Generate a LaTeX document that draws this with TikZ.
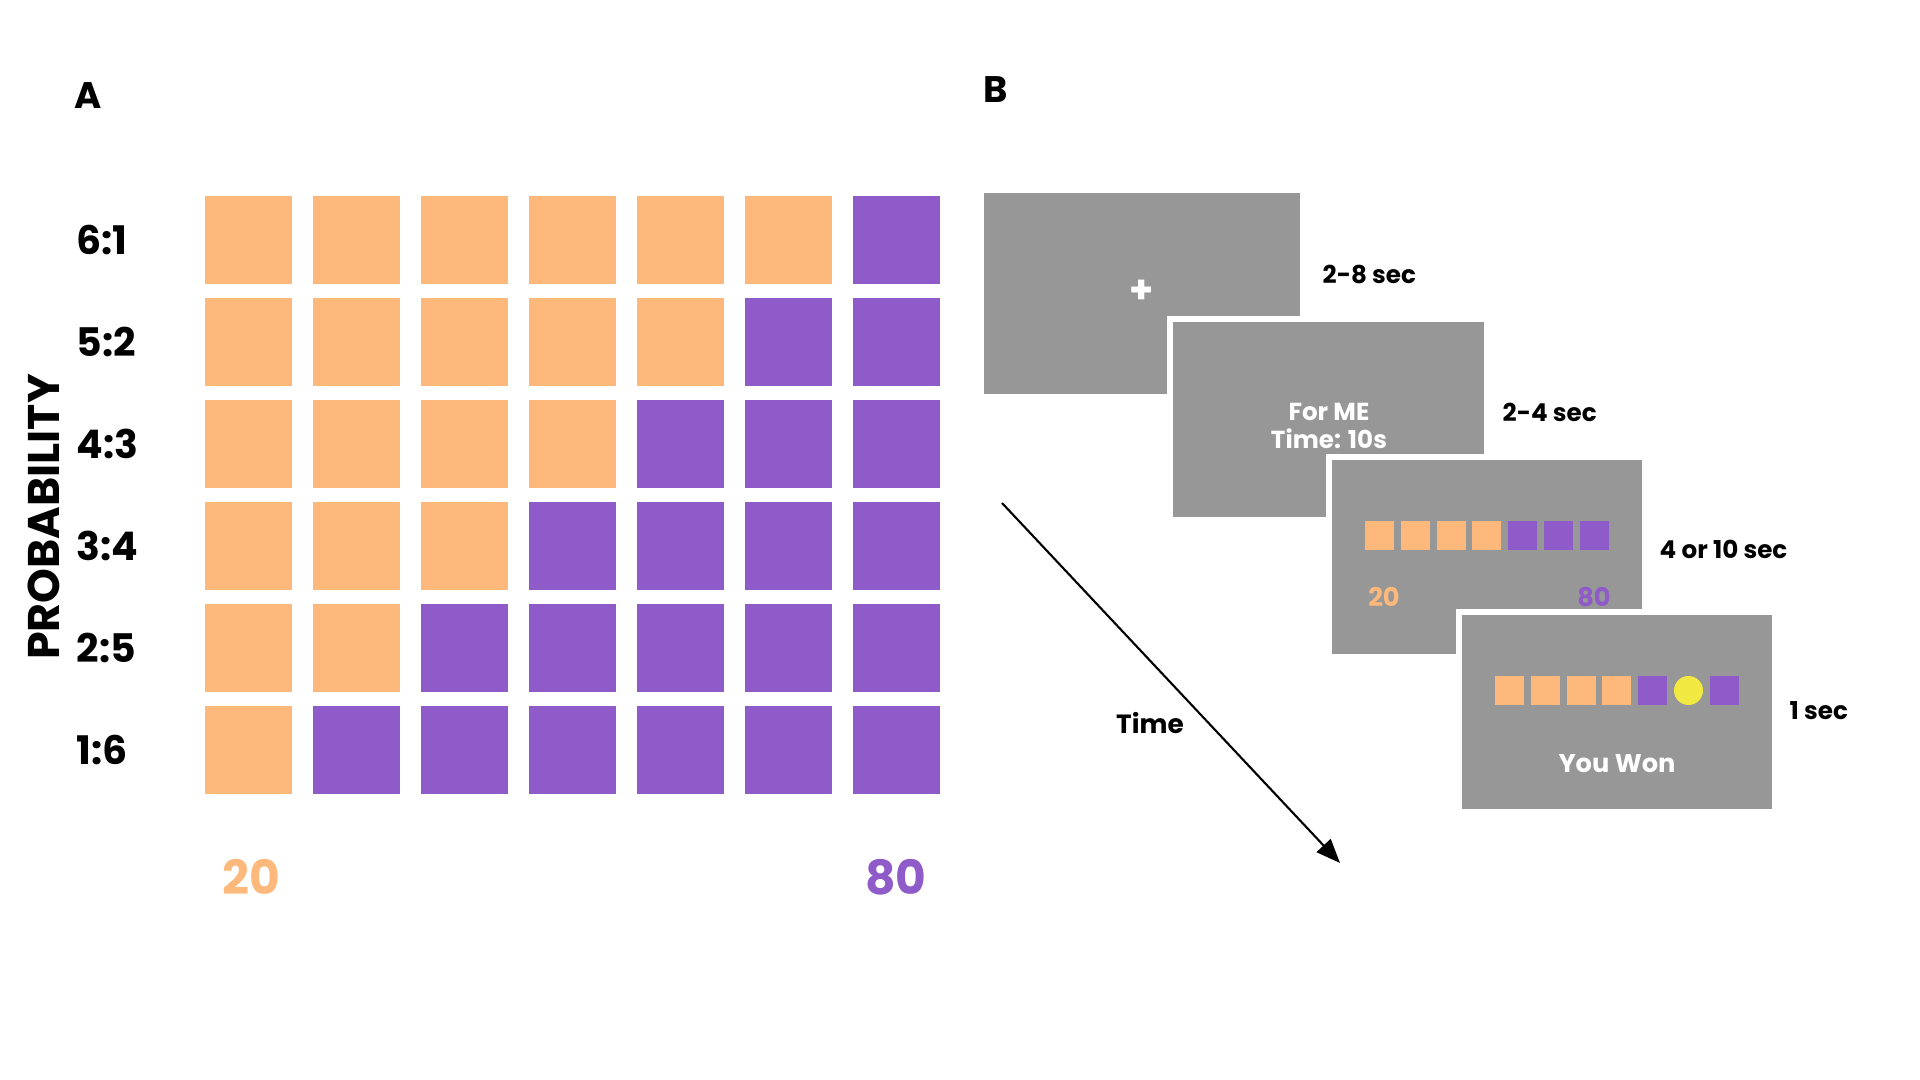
\documentclass[tikz,border=0pt]{standalone}
\usepackage{fontspec}
\setmainfont{Poppins}
\usetikzlibrary{arrows.meta}
\definecolor{orng}{RGB}{253,184,124}
\definecolor{purp}{RGB}{142,91,201}
\definecolor{scr}{RGB}{151,151,151}
\definecolor{yel}{RGB}{242,232,66}
\tikzset{
  sq/.style={rectangle, inner sep=0pt, outer sep=0pt, minimum width=0.87cm, minimum height=0.87cm},
  msq/.style={rectangle, inner sep=0pt, outer sep=0pt, minimum width=0.29cm, minimum height=0.29cm},
  rowlab/.style={anchor=west, inner sep=0pt, font=\fontsize{11.2pt}{13pt}\selectfont\bfseries},
  panel/.style={font=\fontsize{10.5pt}{12pt}\selectfont\bfseries, inner sep=0pt},
  dur/.style={anchor=west, inner sep=0pt, font=\fontsize{7pt}{8pt}\selectfont\bfseries},
  screen/.style={rectangle, fill=scr, draw=white, line width=0.06cm, inner sep=0pt, outer sep=0pt},
  wtext/.style={text=white, inner sep=0pt, font=\fontsize{7pt}{8pt}\selectfont\bfseries, align=center},
  big/.style={inner sep=0pt, font=\fontsize{13.4pt}{15pt}\selectfont\bfseries},
  small/.style={inner sep=0pt, font=\fontsize{7.3pt}{8pt}\selectfont\bfseries}
}
\begin{document}
\begin{tikzpicture}[x=0.01cm, y=-0.01cm]
\useasboundingbox[fill=white] (0,0) rectangle (1920,1080);
% Panel A
\node[panel] (labA) at (88,96) {A};
\foreach \j/\lab in {0/6:1,1/5:2,2/4:3,3/3:4,4/2:5,5/1:6}{
  \node[rowlab] (r\j) at (76,{240+102*\j}) {\lab};
  \foreach \i in {0,...,6}{
    \pgfmathtruncatemacro{\isor}{\i<6-\j ? 1 : 0}
    \ifnum\isor=1
      \node[sq, fill=orng] (g\j-\i) at ({248.5+108*\i},{240+102*\j}) {};
    \else
      \node[sq, fill=purp] (g\j-\i) at ({248.5+108*\i},{240+102*\j}) {};
    \fi
  }
}
\node[rotate=90, inner sep=0pt, font=\fontsize{12.6pt}{14pt}\selectfont\bfseries] (prob) at (44,517) {PROBABILITY};
\node[big, text=orng] (v20) at (251,877) {20};
\node[big, text=purp] (v80) at (896,877) {80};
% Panel B
\node[panel] (labB) at (996,90) {B};
\node[screen, minimum width=3.22cm, minimum height=2.07cm] (s1) at (1142,293.5) {};
\node[text=white, inner sep=0pt, font=\fontsize{11pt}{12pt}\selectfont\bfseries] (plus) at (1142,292) {+};
\node[dur] (d1) at (1322,275) {2-8 sec};
\node[screen, minimum width=3.17cm, minimum height=2.01cm] (s2) at (1328.5,419.5) {};
\node[wtext] (t2) at (1329,426) {For ME\\Time: 10s};
\node[dur] (d2) at (1502,412) {2-4 sec};
\node[screen, minimum width=3.16cm, minimum height=2.00cm] (s3) at (1487,557) {};
\foreach \k/\c in {0/orng,1/orng,2/orng,3/orng,4/purp,5/purp,6/purp}{
  \node[msq, fill=\c] (c\k) at ({1379.5+35.8*\k},535.5) {};
}
\node[small, text=orng] (c20) at (1384,597) {20};
\node[small, text=purp] (c80) at (1594,597) {80};
\node[dur] (d3) at (1659,549) {4 or 10 sec};
\node[screen, minimum width=3.16cm, minimum height=2.00cm] (s4) at (1617,712) {};
\foreach \k/\c in {0/orng,1/orng,2/orng,3/orng,4/purp,6/purp}{
  \node[msq, fill=\c] (o\k) at ({1509.5+35.8*\k},690.5) {};
}
\node[circle, fill=yel, inner sep=0pt, minimum size=0.29cm] (o5) at (1688.5,690.5) {};
\node[wtext, font=\fontsize{7.3pt}{8pt}\selectfont\bfseries] (won) at (1617,764) {You Won};
\node[dur] (d4) at (1789,711) {1 sec};
% Time arrow
\coordinate (tstart) at (1002,503);
\coordinate (tend) at (1340,863);
\draw[line width=0.6pt, -{Triangle[length=0.24cm, width=0.19cm]}] (tstart) -- (tend);
\node[inner sep=0pt, font=\fontsize{7.5pt}{8pt}\selectfont\bfseries] (time) at (1150,723) {Time};
\end{tikzpicture}
\end{document}
